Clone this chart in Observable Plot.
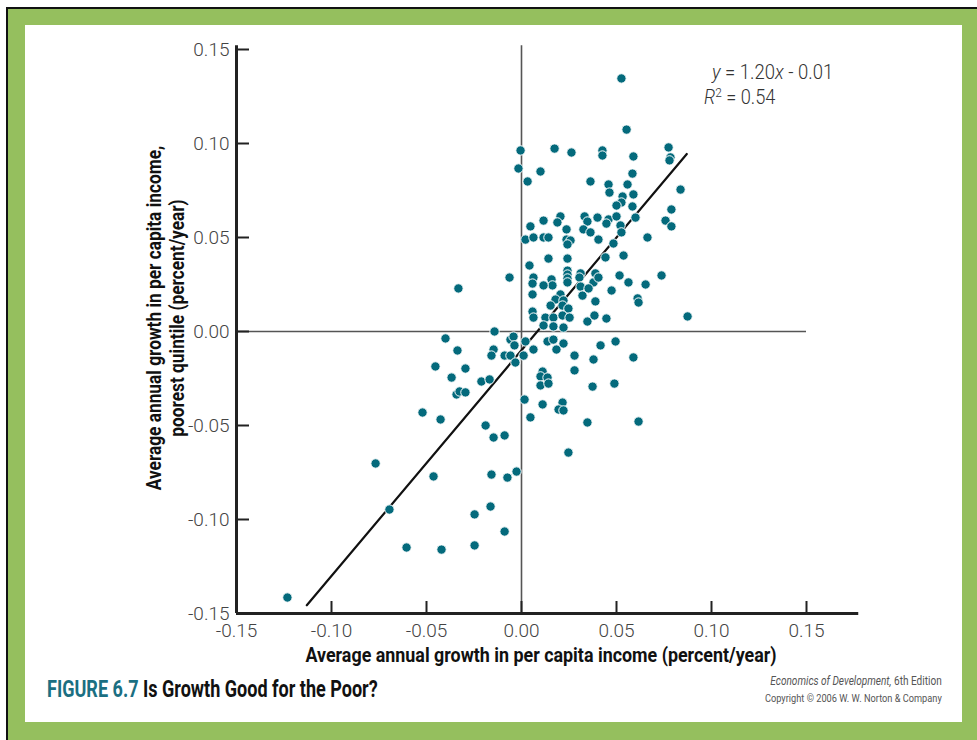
<!DOCTYPE html>
<html>
<head>
<meta charset="utf-8">
<script src="https://cdn.jsdelivr.net/npm/d3@7"></script>
<script src="https://cdn.jsdelivr.net/npm/@observablehq/plot@0.6"></script>
<style>
  html, body { margin: 0; padding: 0; width: 977px; height: 740px; overflow: hidden; background: #fff; }
  body { position: relative; font-family: Roboto, "Liberation Sans", sans-serif; }
  #frame { position: absolute; left: 6px; top: 7px; right: 0; bottom: 0; background: #95bf5e; border-left: 2px solid #111; border-top: 2px solid #111; }
  #panel { position: absolute; left: 25px; top: 25px; width: 937px; height: 697px; background: #fff; }
  #chart { position: absolute; left: 25px; top: 25px; }
  .abs { position: absolute; white-space: nowrap; }
  .axtitle { font-weight: bold; font-size: 20px; color: #111; }
  #xtitle { left: 541px; top: 655px; line-height: 22px; transform: translate(-50%, -50%); }
  #ytitle { left: 166px; top: 318px; transform: translate(-50%, -50%) rotate(-90deg); text-align: center; line-height: 23px; }
  .eq { font-size: 20px; line-height: 22px; color: #333; font-weight: 300; }
  #eq1 { right: 144px; top: 61px; transform-origin: 100% 50%; }
  #eq2 { left: 704px; top: 86px; transform-origin: 0 50%; }
  #eq2 sup { font-size: 13px; vertical-align: 7px; line-height: 0; }
  #figtitle { left: 47px; top: 677px; font-size: 23px; line-height: 26px; font-weight: bold; color: #111; transform-origin: 0 50%; }
  #figtitle span { color: #1b6f82; }
  #caption { right: 35px; top: 672px; text-align: right; color: #555; line-height: 15px; transform-origin: 100% 50%; }
  #caption .c1 { font-size: 12px; }
  #caption .c2 { font-size: 11px; }
</style>
</head>
<body>
<div id="frame"></div>
<div id="panel"></div>
<div id="chart"></div>
<div id="xtitle" class="abs axtitle">Average annual growth in per capita income (percent/year)</div>
<div id="ytitle" class="abs axtitle">Average annual growth in per capita income,<br>poorest quintile (percent/year)</div>
<div id="eq1" class="abs eq"><i>y</i> = 1.20<i>x</i> - 0.01</div>
<div id="eq2" class="abs eq"><i>R</i><sup>2</sup> = 0.54</div>
<div id="figtitle" class="abs"><span>FIGURE 6.7</span> Is Growth Good for the Poor?</div>
<div id="caption" class="abs"><span class="c1"><i>Economics of Development,</i> 6th Edition</span><br><span class="c2">Copyright © 2006 W. W. Norton &amp; Company</span></div>
<script>
// Tick values
const xTicks = [-0.15, -0.10, -0.05, 0.00, 0.05, 0.10, 0.15];
const yTicks = [-0.15, -0.10, -0.05, 0.00, 0.05, 0.10, 0.15];

// Average annual growth in per capita income (x)
const incomeGrowth = [
  0.0526, 0.0553, -0.0005, 0.0174, 0.0263, 0.0426, 0.0426, 0.0589, 0.0774, 0.0784,
  0.0779, -0.0016, 0.0100, 0.0032, 0.0584, 0.0363, 0.0458, 0.0558, 0.0463, 0.0532,
  0.0589, 0.0526, 0.0500, 0.0584, 0.0837, 0.0789, 0.0758, 0.0789, 0.0205, 0.0189,
  0.0116, 0.0047, 0.0332, 0.0347, 0.0400, 0.0458, 0.0447, 0.0500, 0.0600, 0.0521,
  0.0526, 0.0237, 0.0326, 0.0363, 0.0021, 0.0063, 0.0116, 0.0142, 0.0237, 0.0258,
  0.0242, 0.0405, 0.0484, 0.0663, 0.0042, 0.0142, 0.0242, 0.0442, 0.0537, -0.0063,
  0.0063, 0.0058, 0.0158, 0.0163, 0.0116, 0.0242, 0.0242, 0.0242, 0.0242, 0.0311,
  0.0305, 0.0389, 0.0379, 0.0405, 0.0311, 0.0321, 0.0353, 0.0474, 0.0516, 0.0563,
  0.0653, 0.0737, 0.0058, 0.0205, 0.0179, 0.0221, 0.0216, 0.0153, 0.0247, 0.0389,
  0.0611, 0.0616, 0.0058, 0.0063, 0.0126, 0.0168, 0.0216, 0.0253, 0.0116, 0.0168,
  0.0221, 0.0347, 0.0384, 0.0447, 0.0874, -0.0332, -0.0142, -0.0400, -0.0058, -0.0042,
  -0.0037, 0.0021, 0.0137, 0.0168, 0.0221, 0.0184, 0.0063, -0.0089, -0.0058, 0.0011,
  -0.0032, 0.0416, 0.0495, 0.0279, 0.0379, 0.0589, 0.0279, 0.0111, 0.0100, 0.0137,
  0.0100, 0.0142, 0.0374, 0.0489, 0.0016, 0.0111, 0.0216, 0.0195, 0.0221, 0.0047,
  0.0347, 0.0616, -0.0089, 0.0247, -0.0026, -0.0074, -0.0089, -0.0337, -0.0147, -0.0158,
  -0.0453, -0.0295, -0.0368, -0.0211, -0.0168, -0.0342, -0.0326, -0.0295, -0.0521, -0.0426,
  -0.0189, -0.0147, -0.0768, -0.0463, -0.0158, -0.0695, -0.0247, -0.0163, -0.0605, -0.0421,
  -0.0247, -0.1232
];

// Average annual growth in per capita income, poorest quintile (y)
const poorGrowth = [
  0.1346, 0.1074, 0.0963, 0.0973, 0.0952, 0.0963, 0.0936, 0.0931, 0.0979, 0.0926,
  0.0910, 0.0867, 0.0851, 0.0798, 0.0840, 0.0798, 0.0782, 0.0782, 0.0739, 0.0718,
  0.0729, 0.0686, 0.0670, 0.0665, 0.0755, 0.0649, 0.0590, 0.0559, 0.0612, 0.0580,
  0.0590, 0.0559, 0.0612, 0.0585, 0.0606, 0.0596, 0.0574, 0.0612, 0.0606, 0.0564,
  0.0527, 0.0543, 0.0543, 0.0527, 0.0489, 0.0500, 0.0500, 0.0500, 0.0489, 0.0484,
  0.0463, 0.0489, 0.0468, 0.0500, 0.0351, 0.0388, 0.0388, 0.0394, 0.0404, 0.0287,
  0.0287, 0.0255, 0.0277, 0.0245, 0.0245, 0.0324, 0.0303, 0.0282, 0.0261, 0.0309,
  0.0287, 0.0309, 0.0261, 0.0287, 0.0239, 0.0191, 0.0229, 0.0218, 0.0298, 0.0261,
  0.0250, 0.0298, 0.0197, 0.0197, 0.0170, 0.0165, 0.0138, 0.0138, 0.0122, 0.0160,
  0.0176, 0.0154, 0.0106, 0.0074, 0.0074, 0.0074, 0.0085, 0.0074, 0.0032, 0.0027,
  0.0021, 0.0053, 0.0085, 0.0069, 0.0080, 0.0229, 0.0000, -0.0037, -0.0043, -0.0027,
  -0.0074, -0.0053, -0.0053, -0.0043, -0.0064, -0.0096, -0.0096, -0.0128, -0.0128, -0.0128,
  -0.0165, -0.0074, -0.0053, -0.0128, -0.0149, -0.0138, -0.0207, -0.0213, -0.0239, -0.0245,
  -0.0287, -0.0277, -0.0293, -0.0277, -0.0362, -0.0388, -0.0378, -0.0415, -0.0420, -0.0457,
  -0.0484, -0.0479, -0.0553, -0.0644, -0.0745, -0.0777, -0.1064, -0.0101, -0.0096, -0.0128,
  -0.0186, -0.0197, -0.0245, -0.0266, -0.0255, -0.0335, -0.0319, -0.0324, -0.0431, -0.0468,
  -0.0500, -0.0564, -0.0702, -0.0771, -0.0761, -0.0947, -0.0973, -0.0931, -0.1149, -0.1160,
  -0.1138, -0.1415
];

// Fitted regression line: y = 1.20x - 0.01 (R^2 = 0.54), drawn over this x range
const fitSlope = 1.20;
const fitIntercept = -0.01;
const fitRange = [-0.113, 0.087];

const points = incomeGrowth.map((x, i) => ({x, y: poorGrowth[i]}));
const fmt = d => (d < 0 ? "-" : "") + Math.abs(d).toFixed(2);

const W = 937, H = 650;
const mL = 211, mR = 103.75, mT = 20.24, mB = 62;
const frameW = W - mL - mR, frameH = H - mT - mB;

const chart = Plot.plot({
  width: W,
  height: H,
  marginLeft: mL,
  marginRight: mR,
  marginTop: mT,
  marginBottom: mB,
  x: {domain: [-0.15, 0.1775]},
  y: {domain: [-0.15, 0.152]},
  style: {fontFamily: "Roboto, 'Liberation Sans', sans-serif", fontWeight: 300, background: "transparent", overflow: "visible"},
  marks: [
    Plot.ruleY([0], {x1: xTicks[0], x2: xTicks[xTicks.length - 1], stroke: "#555", strokeWidth: 1.6}),
    Plot.ruleX([0], {stroke: "#555", strokeWidth: 1.6}),
    Plot.tickX(xTicks, {x: d => d, insetTop: frameH - 12, stroke: "#222", strokeWidth: 2}),
    Plot.tickY(yTicks, {y: d => d, insetRight: frameW - 13, stroke: "#222", strokeWidth: 2}),
    Plot.ruleX([xTicks[0]], {stroke: "#222", strokeWidth: 3}),
    Plot.ruleY([yTicks[0]], {stroke: "#222", strokeWidth: 3}),
    Plot.axisX(xTicks, {tickSize: 0, tickPadding: 10, tickFormat: fmt, fontSize: 19, fill: "#444", label: null}),
    Plot.axisY(yTicks, {tickSize: 0, tickPadding: 7, tickFormat: fmt, fontSize: 19, fill: "#444", label: null}),
    Plot.line(fitRange, {x: d => d, y: d => fitSlope * d + fitIntercept, stroke: "#111", strokeWidth: 2.2}),
    Plot.dot(points, {x: "x", y: "y", r: 4.7, fill: "#046a7c", stroke: "#fff", strokeWidth: 1})
  ]
});
document.getElementById("chart").appendChild(chart);

// Condense HTML texts horizontally to the widths they take in the reference
const fits = [
  ["xtitle", 471, "translate(-50%, -50%) scaleX(S)"],
  ["ytitle", 345, "translate(-50%, -50%) rotate(-90deg) scaleX(S)"],
  ["eq1", 121, "scaleX(S)"],
  ["eq2", 71, "scaleX(S)"],
  ["figtitle", 331, "scaleX(S)"],
  ["caption", 177, "scaleX(S)"]
];
function applyFits() {
  for (const [id, target, base] of fits) {
    const el = document.getElementById(id);
    el.style.transform = "none";
    const w = el.offsetWidth;
    el.style.transform = base.replace("S", (target / w).toFixed(4));
  }
}
applyFits();
if (document.fonts && document.fonts.ready) document.fonts.ready.then(applyFits);
</script>
</body>
</html>
